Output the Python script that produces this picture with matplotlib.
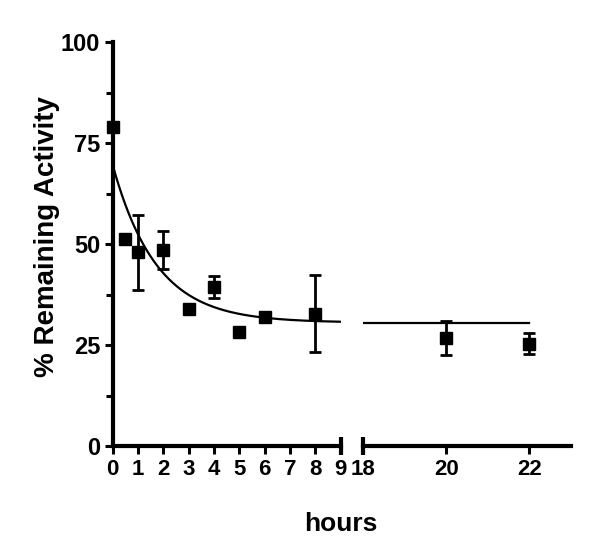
import numpy as np
import matplotlib
matplotlib.use("Agg")
import matplotlib.pyplot as plt

# ---------------------------
# Data
# ---------------------------
hours = [0, 0.5, 1, 2, 3, 4, 5, 6, 8, 20, 22]
activity = [79, 51.2, 48, 48.5, 34, 39.4, 28.3, 32, 32.8, 26.8, 25.4]
activity_err = [0, 0, 9.3, 4.7, 1.0, 2.7, 0, 0, 9.6, 4.2, 2.5]

# one-phase decay fit
fit_y0 = 69.5
fit_plateau = 30.6
fit_k = 0.58

left_ticks = list(range(0, 10))
right_ticks = [18, 20, 22]
y_ticks = [0, 25, 50, 75, 100]

plt.rcParams["font.family"] = ["Liberation Sans", "DejaVu Sans"]
plt.rcParams["font.weight"] = "bold"

fig = plt.figure(figsize=(6, 5.55), dpi=100)
ax1 = fig.add_axes([0.188, 0.196, 0.380, 0.728])
ax2 = fig.add_axes([0.6055, 0.196, 0.3455, 0.728])

hours = np.array(hours)
activity = np.array(activity)
activity_err = np.array(activity_err)


def decay(x):
    return fit_plateau + (fit_y0 - fit_plateau) * np.exp(-fit_k * x)


for ax, lo, hi, fit_hi in [(ax1, 0, 9, 9), (ax2, 18, 23, 22)]:
    sel = (hours >= lo) & (hours <= hi)
    ax.errorbar(hours[sel], activity[sel], yerr=activity_err[sel], fmt="s",
                color="black", markersize=9, elinewidth=2, capsize=4.5,
                capthick=2, clip_on=False, zorder=3)
    xs = np.linspace(lo, fit_hi, 300)
    ax.plot(xs, decay(xs), color="black", lw=1.6, zorder=2)
    ax.set_xlim(lo, hi)
    ax.set_ylim(0, 100)
    ax.spines["top"].set_visible(False)
    ax.spines["right"].set_visible(False)
    ax.spines["bottom"].set_linewidth(3)
    ax.spines["left"].set_linewidth(3)
    ax.tick_params(axis="both", which="major", length=6, width=2.2,
                   direction="out", pad=3)
    ax.tick_params(axis="y", which="minor", length=5, width=2.2)

ax1.set_xticks(left_ticks)
ax1.set_xticklabels([str(t) for t in left_ticks], fontsize=16, fontweight="bold")
ax1.set_yticks(y_ticks)
ax1.set_yticklabels([str(t) for t in y_ticks], fontsize=17, fontweight="bold")
ax1.set_yticks([12.5, 37.5, 62.5, 87.5], minor=True)

ax2.set_xticks(right_ticks)
ax2.set_xticklabels([str(t) for t in right_ticks], fontsize=16, fontweight="bold")
ax2.spines["left"].set_visible(False)
ax2.set_yticks([])

# break caps on the x axis
ax1.plot([1], [0], marker="|", markersize=13, markeredgewidth=3, color="black",
         transform=ax1.transAxes, clip_on=False)
ax2.plot([0], [0], marker="|", markersize=13, markeredgewidth=3, color="black",
         transform=ax2.transAxes, clip_on=False)

fig.text(0.568, 0.056, "hours", ha="center", va="center", fontsize=19,
         fontweight="bold")
fig.text(0.078, 0.573, "% Remaining Activity", ha="center", va="center",
         rotation=90, fontsize=20, fontweight="bold")

fig.savefig("out.png", dpi=100)
